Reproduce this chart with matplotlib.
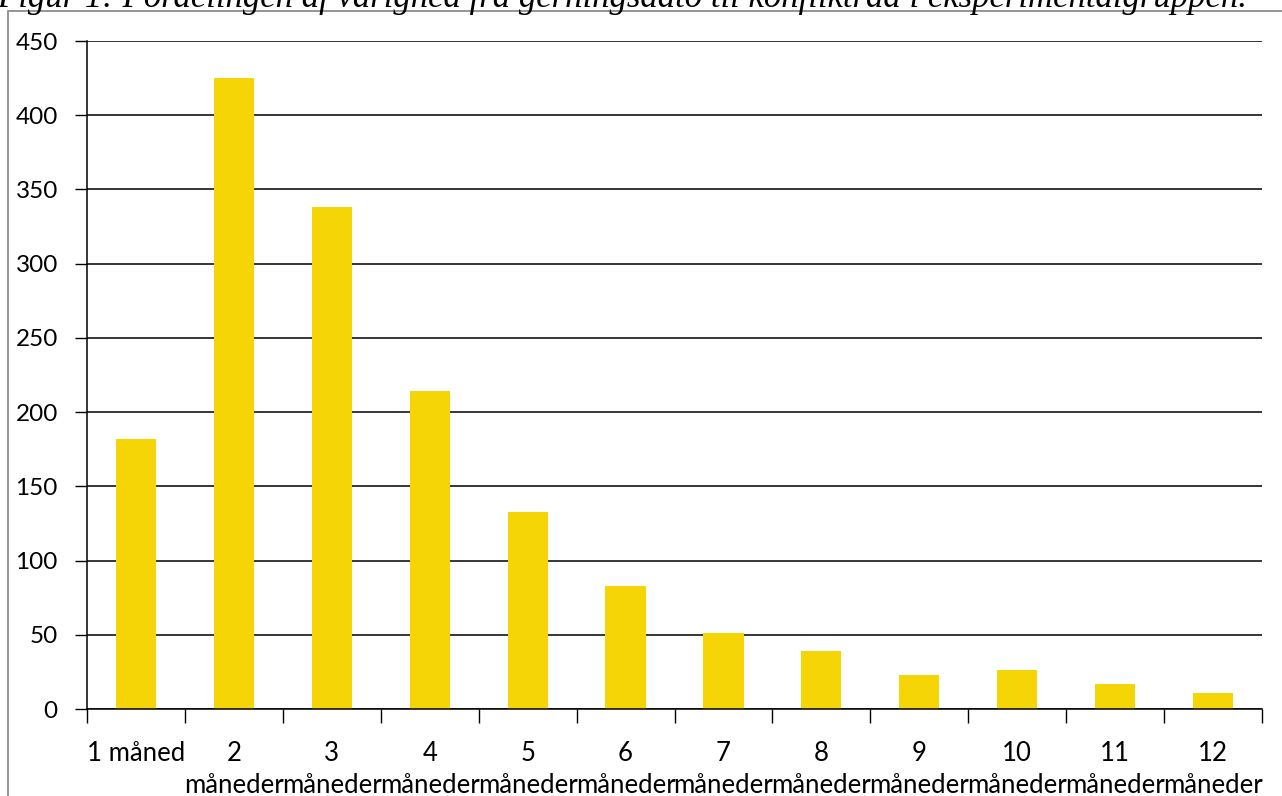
import matplotlib.pyplot as plt
from matplotlib.patches import Rectangle

# data
categories = ['1 måned', '2\nmåneder', '3\nmåneder', '4\nmåneder', '5\nmåneder',
              '6\nmåneder', '7\nmåneder', '8\nmåneder', '9\nmåneder', '10\nmåneder',
              '11\nmåneder', '12\nmåneder']
counts = [182, 425, 338, 214, 133, 83, 51, 39, 23, 26, 17, 11]
y_ticks = [0, 50, 100, 150, 200, 250, 300, 350, 400, 450]
title = 'Figur 1: Fordelingen af varighed fra gerningsdato til konfliktråd i eksperimentalgruppen.'

W, H = 1282, 796
fig = plt.figure(figsize=(W / 100, H / 100), dpi=100)
plt.rcParams['font.family'] = ['Lato', 'DejaVu Sans']

# outer chart frame (gray), cut off on the right and bottom
fig.patches.append(Rectangle((8 / W, -0.1), 1.1, 1.1 - 11 / H,
                             transform=fig.transFigure, fill=False,
                             edgecolor='#8c8c8c', linewidth=1.3))

# title, mostly cut off at the top
fig.text(-3 / W, 1 - 7 / H, title, fontsize=25, style='italic',
         family='Liberation Serif', ha='left', va='baseline')

ax = fig.add_axes([87 / W, 1 - 709 / H, (1262 - 87) / W, (709 - 41) / H])
x = list(range(len(counts)))
ax.bar(x, counts, width=0.41, color='#F5D506', zorder=3)

ax.set_xlim(-0.5, len(counts) - 0.5)
ax.set_ylim(0, 450)
ax.set_yticks(y_ticks)
ax.set_yticklabels([str(v) for v in y_ticks], fontsize=17.5)
ax.yaxis.grid(True, color='black', linewidth=1.1, zorder=0)

# boundary ticks on the x axis, labels at category centres
ax.set_xticks([i - 0.5 for i in range(len(counts) + 1)])
ax.set_xticklabels([])
ax.set_xticks(x, minor=True)
ax.set_xticklabels(categories, minor=True, fontsize=18.5, linespacing=1.33, va='top')
ax.tick_params(axis='x', which='major', direction='out', length=10, width=1)
ax.tick_params(axis='x', which='minor', length=0, pad=23)
ax.tick_params(axis='y', direction='out', length=9, width=1, pad=12)

for side in ['top', 'right']:
    ax.spines[side].set_visible(False)
for side in ['left', 'bottom']:
    ax.spines[side].set_color('black')
    ax.spines[side].set_linewidth(1.1)
    ax.spines[side].set_zorder(4)

fig.savefig('out.png', dpi=100)
